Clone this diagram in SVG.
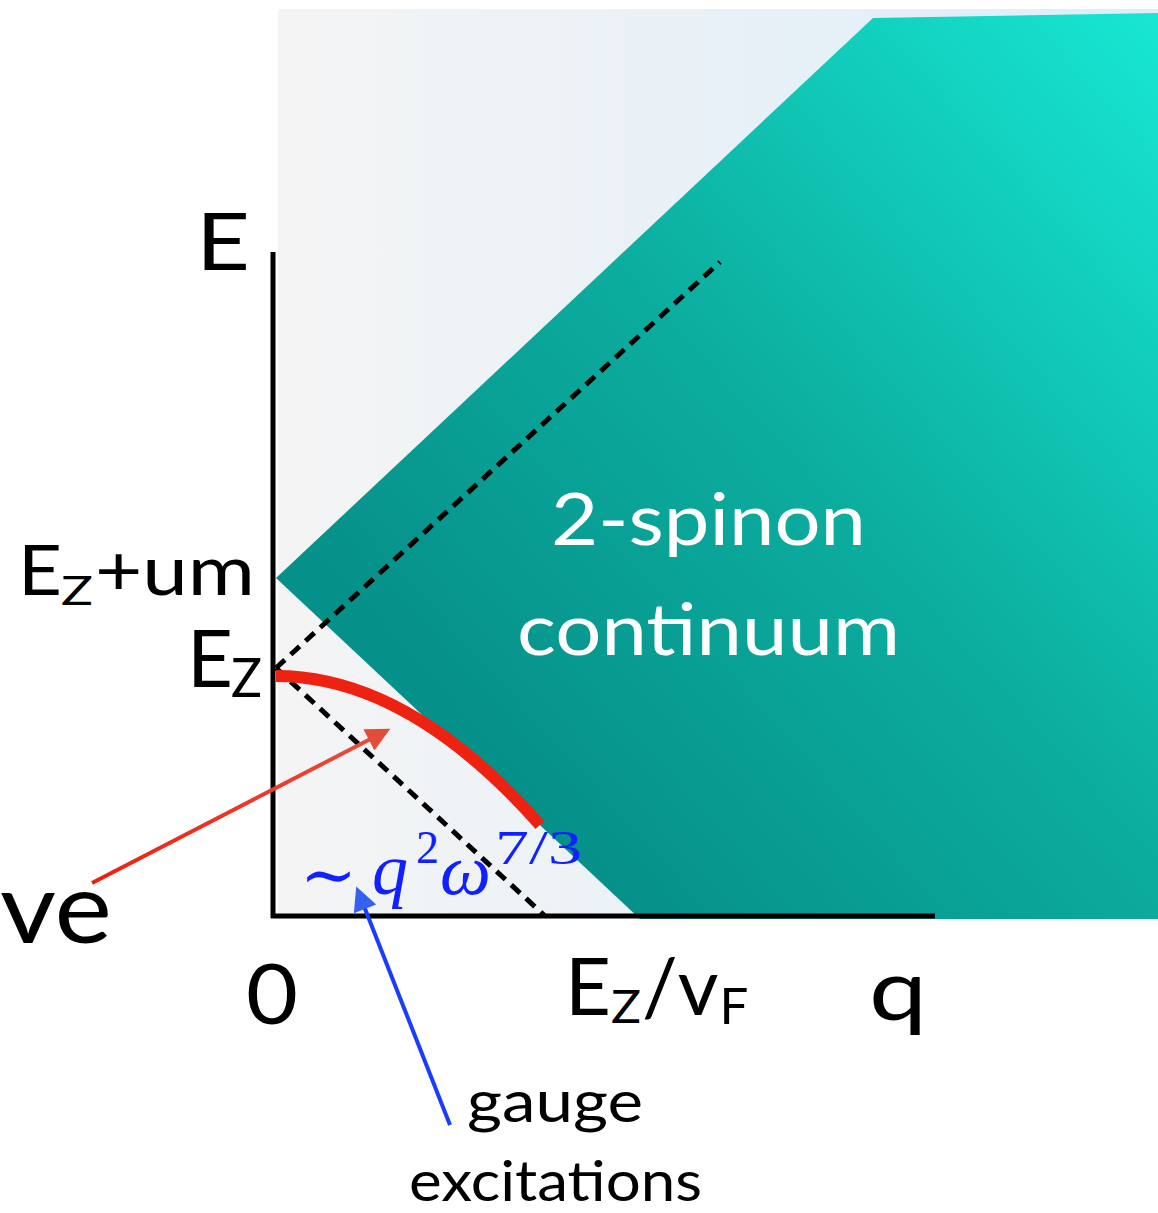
<svg xmlns="http://www.w3.org/2000/svg" width="1158" height="1213" viewBox="0 0 1158 1213">
<defs>
<linearGradient id="bg" x1="0" y1="0" x2="1" y2="0">
<stop offset="0" stop-color="#f4f4f4"/>
<stop offset="1" stop-color="#ddeefa"/>
</linearGradient>
<linearGradient id="teal" gradientUnits="userSpaceOnUse" x1="420" y1="680" x2="1150" y2="20">
<stop offset="0" stop-color="#06908a"/>
<stop offset="0.45" stop-color="#0cae9f"/>
<stop offset="1" stop-color="#17e6d2"/>
</linearGradient>
<linearGradient id="redg" gradientUnits="userSpaceOnUse" x1="92" y1="883" x2="393" y2="727">
<stop offset="0" stop-color="#ee2010"/>
<stop offset="1" stop-color="#e65040"/>
</linearGradient>
<marker id="rh" viewBox="0 0 10 10" refX="8" refY="5" markerWidth="7" markerHeight="6" orient="auto" markerUnits="strokeWidth">
<path d="M0,0 L10,5 L0,10 z" fill="#e24c3a"/>
</marker>
<marker id="bh" viewBox="0 0 10 10" refX="8" refY="5" markerWidth="7" markerHeight="6" orient="auto" markerUnits="strokeWidth">
<path d="M0,0 L10,5 L0,10 z" fill="#3560f0"/>
</marker>
<style>
.lbl{font-family:Lato,"Open Sans","Liberation Sans",sans-serif;fill:#000}
.wt{font-family:Lato,"Open Sans","Liberation Sans",sans-serif;fill:#fff;font-size:72px}
.mi{font-family:"Liberation Serif","DejaVu Serif",serif;fill:#1020ff;font-style:italic}
.mn{font-family:"Liberation Serif","DejaVu Serif",serif;fill:#1020ff;font-style:normal}
.dash{stroke:#000;stroke-width:5;stroke-dasharray:12 8;fill:none}
</style>
</defs>
<g id="background">
<rect x="278" y="9" width="880" height="910" fill="url(#bg)"/>
</g>
<g id="continuum">
<polygon points="276,578 873,18 1158,13 1158,919 640,919" fill="url(#teal)"/>
<text class="wt" x="551" y="545" textLength="315" lengthAdjust="spacingAndGlyphs">2-spinon</text>
<text class="wt" x="517" y="655" textLength="383" lengthAdjust="spacingAndGlyphs">continuum</text>
</g>
<g id="axes">
<line x1="273" y1="252" x2="273" y2="918" stroke="#000" stroke-width="5"/>
<line x1="271" y1="916" x2="935" y2="916" stroke="#000" stroke-width="5"/>
</g>
<g id="connectors">
<line class="dash" x1="276" y1="668" x2="720" y2="262"/>
<line class="dash" x1="276" y1="668" x2="545" y2="916"/>
<path d="M276,676 Q408,676 540,825" stroke="#ee2211" stroke-width="12" fill="none"/>
<line x1="92" y1="883" x2="386" y2="731" stroke="url(#redg)" stroke-width="4" marker-end="url(#rh)"/>
<line x1="450" y1="1125" x2="358" y2="891" stroke="#1a3cff" stroke-width="4" marker-end="url(#bh)"/>
</g>
<g id="labels">
<text class="lbl" x="196" y="270" font-size="79" textLength="54" lengthAdjust="spacingAndGlyphs">E</text>
<text class="lbl" font-size="70"><tspan x="18" y="595" textLength="44" lengthAdjust="spacingAndGlyphs">E</tspan><tspan x="61" y="605" font-size="40" textLength="32" lengthAdjust="spacingAndGlyphs">Z</tspan><tspan x="95" y="595" textLength="160" lengthAdjust="spacingAndGlyphs">+um</tspan></text>
<text class="lbl" font-size="79"><tspan x="187" y="687" textLength="46" lengthAdjust="spacingAndGlyphs">E</tspan><tspan x="231" y="697" font-size="55" textLength="31" lengthAdjust="spacingAndGlyphs">Z</tspan></text>
<text class="lbl" x="0" y="943" font-size="98" textLength="112" lengthAdjust="spacingAndGlyphs">ve</text>
<text class="lbl" x="246" y="1024" font-size="84" textLength="52" lengthAdjust="spacingAndGlyphs">0</text>
<text class="lbl" font-size="79"><tspan x="565" y="1015" textLength="46" lengthAdjust="spacingAndGlyphs">E</tspan><tspan x="611" y="1023" font-size="46" textLength="30" lengthAdjust="spacingAndGlyphs">Z</tspan><tspan x="642" y="1015">/v</tspan><tspan dx="1" dy="9" font-size="51">F</tspan></text>
<text class="lbl" x="869" y="1020" font-size="86" textLength="58" lengthAdjust="spacingAndGlyphs">q</text>
<text class="lbl" x="467" y="1122" font-size="58" textLength="176" lengthAdjust="spacingAndGlyphs">gauge</text>
<text class="lbl" x="409" y="1201" font-size="56" textLength="293" lengthAdjust="spacingAndGlyphs">excitations</text>
</g>
<g id="formula">
<text class="mn" x="300" y="898" font-size="68">∼</text>
<text class="mi" x="372" y="894" font-size="72">q</text>
<text class="mn" x="416" y="863" font-size="46">2</text>
<text class="mi" x="440" y="894" font-size="72">ω</text>
<text class="mn" x="495" y="864" font-size="48" textLength="87" lengthAdjust="spacingAndGlyphs">7/3</text>
</g>
</svg>
